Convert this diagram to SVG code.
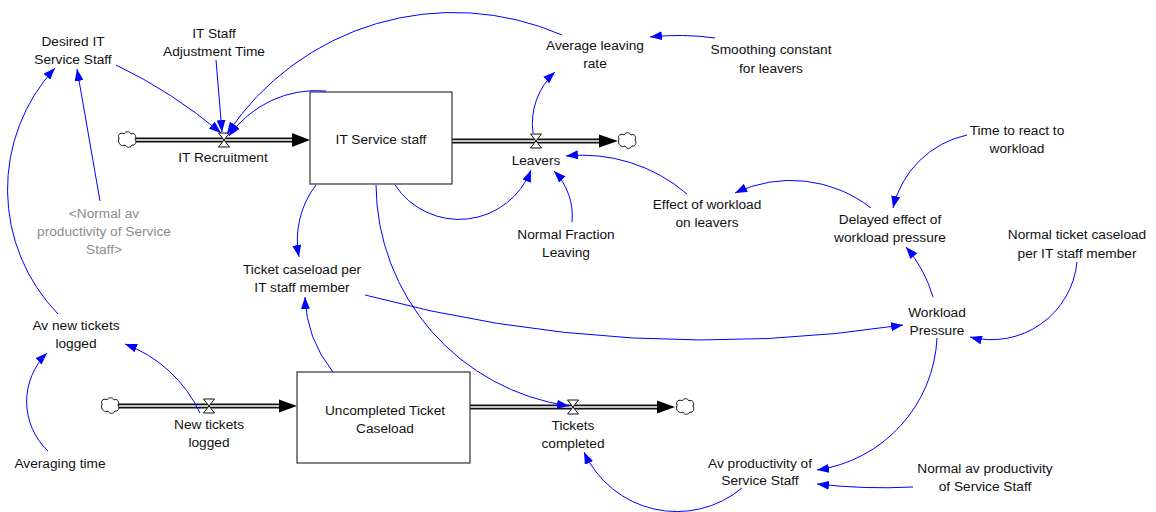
<svg xmlns="http://www.w3.org/2000/svg" width="1156" height="512" viewBox="0 0 1156 512">
  <style>
    text { font-family: "Liberation Sans", Arial, sans-serif; font-size: 13.7px; fill: #111; text-anchor: middle; }
    text.shadow { fill: #8c8c8c; }
    .stock { fill: #fff; stroke: #333; stroke-width: 1.2; }
    .pipe-outer { fill: none; stroke: #111; stroke-width: 5; }
    .pipe-inner { fill: none; stroke: #fff; stroke-width: 1.6; }
    .pipe-head { fill: #000; }
    .valve { fill: #fff; stroke: #111; stroke-width: 1; }
    .cloud { fill: #fff; stroke: #111; stroke-width: 1; }
    .link { fill: none; stroke: #0000ff; stroke-width: 1; marker-end: url(#arrow); }
  </style>
  <defs>
    <marker id="arrow" markerUnits="userSpaceOnUse" markerWidth="12" markerHeight="9" refX="12" refY="4.5" orient="auto">
      <path d="M0,0 L12,4.5 L0,9 z" fill="#0000ff"/>
    </marker>
    <path id="cloud" class="cloud" d="M-8,-2 C-10,-6 -5,-8 -3,-6 C-2,-9 3,-9 4,-6 C7,-8 10,-4 8,-1 C10,2 8,6 5,5 C4,8 -1,8 -2,5 C-5,7 -10,4 -8,-2 Z"/>
    <path id="valve" class="valve" d="M-5.5,-7 L5.5,-7 L0,0 Z M0,0 L-5.5,7 L5.5,7 Z"/>
  </defs>

  <!-- material flows -->
  <g id="flows">
    <g id="flow-it-recruitment">
      <path class="pipe-outer" d="M136,140 H294"/>
      <path class="pipe-inner" d="M136,140 H294"/>
      <polygon class="pipe-head" points="292,133 310,140 292,147"/>
      <use href="#cloud" x="127" y="140"/>
      <use href="#valve" x="224" y="140"/>
      <text x="223" y="162">IT Recruitment</text>
    </g>
    <g id="flow-leavers">
      <path class="pipe-outer" d="M452,141 H601"/>
      <path class="pipe-inner" d="M452,141 H601"/>
      <polygon class="pipe-head" points="599,134.5 618,141 599,147.5"/>
      <use href="#cloud" x="627" y="141"/>
      <use href="#valve" x="536" y="141"/>
      <text x="536" y="165">Leavers</text>
    </g>
    <g id="flow-new-tickets">
      <path class="pipe-outer" d="M118,406 H281"/>
      <path class="pipe-inner" d="M118,406 H281"/>
      <polygon class="pipe-head" points="279,399.5 297,406 279,412.5"/>
      <use href="#cloud" x="110" y="406"/>
      <use href="#valve" x="209" y="406"/>
      <text x="209" y="429">New tickets</text>
      <text x="209" y="447">logged</text>
    </g>
    <g id="flow-tickets-completed">
      <path class="pipe-outer" d="M470,407 H659"/>
      <path class="pipe-inner" d="M470,407 H659"/>
      <polygon class="pipe-head" points="657,400.5 675,407 657,413.5"/>
      <use href="#cloud" x="685" y="407"/>
      <use href="#valve" x="573" y="407"/>
      <text x="573" y="430">Tickets</text>
      <text x="573" y="448">completed</text>
    </g>
  </g>

  <!-- stocks -->
  <g id="stock-it-service-staff">
    <rect class="stock" x="310" y="92" width="142" height="92"/>
    <text x="381" y="144">IT Service staff</text>
  </g>
  <g id="stock-uncompleted-ticket-caseload">
    <rect class="stock" x="297" y="372" width="173" height="91"/>
    <text x="385" y="415">Uncompleted Ticket</text>
    <text x="385" y="433">Caseload</text>
  </g>

  <!-- auxiliaries and constants -->
  <g id="desired-it-service-staff"><text x="73" y="46">Desired IT</text><text x="73" y="64">Service Staff</text></g>
  <g id="it-staff-adjustment-time"><text x="214" y="38">IT Staff</text><text x="214" y="56">Adjustment Time</text></g>
  <g id="average-leaving-rate"><text x="595" y="50">Average leaving</text><text x="595" y="68">rate</text></g>
  <g id="smoothing-constant"><text x="771" y="54">Smoothing constant</text><text x="771" y="73">for leavers</text></g>
  <g id="time-to-react"><text x="1017" y="135">Time to react to</text><text x="1017" y="153">workload</text></g>
  <g id="effect-of-workload"><text x="707" y="209">Effect of workload</text><text x="707" y="227">on leavers</text></g>
  <g id="delayed-effect"><text x="890" y="224">Delayed effect of</text><text x="890" y="242">workload pressure</text></g>
  <g id="normal-fraction-leaving"><text x="566" y="239">Normal Fraction</text><text x="566" y="257">Leaving</text></g>
  <g id="normal-av-productivity-shadow"><text class="shadow" x="104" y="218">&lt;Normal av</text><text class="shadow" x="104" y="236">productivity of Service</text><text class="shadow" x="104" y="254">Staff&gt;</text></g>
  <g id="ticket-caseload-per-staff"><text x="302" y="274">Ticket caseload per</text><text x="302" y="292">IT staff member</text></g>
  <g id="normal-ticket-caseload"><text x="1077" y="239">Normal ticket caseload</text><text x="1077" y="258">per IT staff member</text></g>
  <g id="workload-pressure"><text x="937" y="317">Workload</text><text x="937" y="335">Pressure</text></g>
  <g id="av-new-tickets-logged"><text x="76" y="330">Av new tickets</text><text x="76" y="348">logged</text></g>
  <g id="av-productivity"><text x="760" y="468">Av productivity of</text><text x="760" y="485">Service Staff</text></g>
  <g id="normal-av-productivity"><text x="985" y="473">Normal av productivity</text><text x="985" y="491">of Service Staff</text></g>
  <g id="averaging-time"><text x="60" y="468">Averaging time</text></g>

  <!-- information links -->
  <g id="connectors">
    <path class="link" d="M116,65 A487,487 0 0,1 221,133"/>
    <path class="link" d="M216,60 L222,132"/>
    <path class="link" d="M562,35 A272,272 0 0,0 227,134"/>
    <path class="link" d="M326,91 A107,107 0 0,0 229,136"/>
    <path class="link" d="M58,314 A179,179 0 0,1 55,68"/>
    <path class="link" d="M100,201 L77,69"/>
    <path class="link" d="M48,451 A68,68 0 0,1 47,353"/>
    <path class="link" d="M200,413 A135,135 0 0,0 125,344"/>
    <path class="link" d="M333,372 A126,126 0 0,1 305,297"/>
    <path class="link" d="M316,185 A90,90 0 0,0 299,257"/>
    <path class="link" d="M376,185 A225,225 0 0,0 569,406"/>
    <path class="link" d="M395,185 A77,77 0 0,0 531,170"/>
    <path class="link" d="M572,222 A64,64 0 0,0 554,171"/>
    <path class="link" d="M687,194 A161,161 0 0,0 566,156"/>
    <path class="link" d="M533,133 A70,70 0 0,1 555,72"/>
    <path class="link" d="M715,38 A265,265 0 0,0 650,37"/>
    <path class="link" d="M871,208 A130,130 0 0,0 735,193"/>
    <path class="link" d="M967,135 A97,97 0 0,0 893,208"/>
    <path class="link" d="M933,297 A136,136 0 0,0 906,247"/>
    <path class="link" d="M1077,262 A86,86 0 0,1 970,337"/>
    <path class="link" d="M365,295 A1310,1310 0 0,0 903,325"/>
    <path class="link" d="M937,338 A140,140 0 0,1 817,470"/>
    <path class="link" d="M913,487 A577,577 0 0,1 817,484"/>
    <path class="link" d="M742,488 A102,102 0 0,1 584,452"/>
  </g>
</svg>
